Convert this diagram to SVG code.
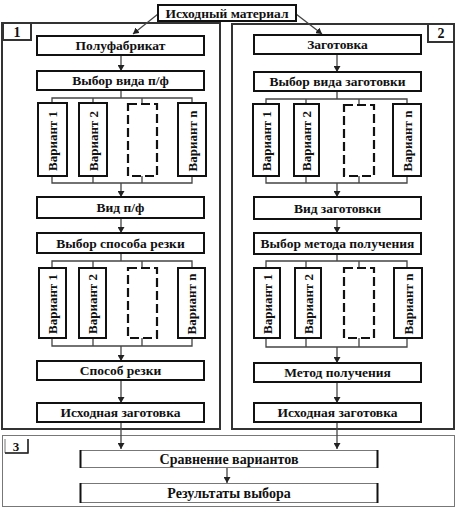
<svg xmlns="http://www.w3.org/2000/svg" width="457" height="509" viewBox="0 0 457 509">
<defs>
<marker id="ah" markerUnits="userSpaceOnUse" markerWidth="7" markerHeight="7" refX="6" refY="3.5" orient="auto">
<path d="M0,0 L6,3.5 L0,7 z" fill="#222"/>
</marker>
</defs>
<style>
.frame{fill:none;stroke:#333;stroke-width:2}
.box{fill:#fff;stroke:#111;stroke-width:2}
.dbox{fill:#fff;stroke:#111;stroke-width:2.2;stroke-dasharray:9,4}
.t{font-family:"Liberation Serif","Times New Roman",serif;font-weight:bold;font-size:13.5px;fill:#111;text-anchor:middle;dominant-baseline:central}
.v{font-family:"Liberation Serif","Times New Roman",serif;font-weight:bold;font-size:13px;fill:#111;text-anchor:middle;dominant-baseline:central}
.c{fill:none;stroke:#444;stroke-width:1.3}
.thin{fill:none;stroke:#777;stroke-width:1}
.side{stroke:#111;stroke-width:2}
</style>
<rect width="457" height="509" fill="#fff"/>

<!-- frames -->
<g id="frame1">
<rect class="frame" x="2" y="23" width="218" height="406"/>
<rect class="frame" x="3" y="23" width="28" height="17" fill="#fff"/>
<text class="t" x="17" y="32" style="font-size:14px">1</text>
</g>
<g id="frame2">
<rect class="frame" x="232" y="24" width="222" height="405"/>
<rect class="frame" x="428" y="24" width="26" height="18"/>
<text class="t" x="441" y="33" style="font-size:14px">2</text>
</g>
<g id="frame3">
<rect class="thin" x="2.5" y="435.5" width="452" height="71"/>
<path class="thin" d="M5,439 L5,453 L28,453 L28,439"/>
<path d="M5,453 L28,453 L28,439" fill="none" stroke="#222" stroke-width="1.5"/>
<text class="t" x="16" y="446" style="font-size:13px">3</text>
</g>

<!-- connectors -->
<g id="connectors">
<path class="c" d="M158,14 L133,34" marker-end="url(#ah)"/>
<path class="c" d="M296,14 L322,34" marker-end="url(#ah)"/>
<!-- left column -->
<path class="c" d="M121,55 L121,71" marker-end="url(#ah)"/>
<path class="c" d="M121,90 L121,98 M52,103 L52,98 L192,98 L192,103 M93,98 L93,103 M142,98 L142,104"/>
<path class="c" d="M52,176 L52,183 L192,183 L192,176 M93,176 L93,183 M142,176 L142,183"/>
<path class="c" d="M121,183 L121,197" marker-end="url(#ah)"/>
<path class="c" d="M121,218 L121,233" marker-end="url(#ah)"/>
<path class="c" d="M121,253 L121,261 M52,268 L52,261 L192,261 L192,268 M93,261 L93,268 M142,261 L142,268"/>
<path class="c" d="M52,338 L52,346 L192,346 L192,338 M93,338 L93,346 M142,338 L142,346"/>
<path class="c" d="M121,346 L121,361" marker-end="url(#ah)"/>
<path class="c" d="M121,380 L121,403" marker-end="url(#ah)"/>
<path class="c" d="M121,422 L121,449" marker-end="url(#ah)"/>
<!-- right column -->
<path class="c" d="M337,54 L337,72" marker-end="url(#ah)"/>
<path class="c" d="M337,91 L337,99 M266,104 L266,99 L407,99 L407,104 M306,99 L306,104 M359,99 L359,105"/>
<path class="c" d="M266,176 L266,183 L407,183 L407,176 M306,176 L306,183 M359,176 L359,183"/>
<path class="c" d="M337,183 L337,197" marker-end="url(#ah)"/>
<path class="c" d="M337,219 L337,233" marker-end="url(#ah)"/>
<path class="c" d="M337,254 L337,261 M266,268 L266,261 L407,261 L407,268 M306,261 L306,268 M359,261 L359,268"/>
<path class="c" d="M266,338 L266,347 L407,347 L407,338 M306,338 L306,347 M359,338 L359,347"/>
<path class="c" d="M337,347 L337,363" marker-end="url(#ah)"/>
<path class="c" d="M337,382 L337,403" marker-end="url(#ah)"/>
<path class="c" d="M337,422 L337,449" marker-end="url(#ah)"/>
<!-- bottom -->
<path class="c" d="M227,467 L227,483" marker-end="url(#ah)"/>
</g>

<!-- top node -->
<g id="n-source">
<rect class="box" x="158" y="5" width="138" height="16"/>
<text class="t" x="227" y="13">Исходный материал</text>
</g>

<!-- left column nodes -->
<g id="n-semi"><rect class="box" x="37" y="36" width="167" height="19"/><text class="t" x="120.5" y="45.5">Полуфабрикат</text></g>
<g id="n-semi-choice"><rect class="box" x="37" y="71" width="167" height="19"/><text class="t" x="120.5" y="80.5">Выбор вида п/ф</text></g>
<g id="n-l1v1"><rect class="box" x="38" y="103" width="29" height="73"/><text class="v" transform="translate(52.5,141) rotate(-90)">Вариант 1</text></g>
<g id="n-l1v2"><rect class="box" x="79" y="103" width="28" height="73"/><text class="v" transform="translate(93,141) rotate(-90)">Вариант 2</text></g>
<g id="n-l1vd"><rect class="dbox" x="128" y="104" width="29" height="72"/></g>
<g id="n-l1vn"><rect class="box" x="178" y="103" width="28" height="73"/><text class="v" transform="translate(192,141) rotate(-90)">Вариант n</text></g>
<g id="n-semi-kind"><rect class="box" x="37" y="197" width="167" height="21"/><text class="t" x="120.5" y="207.5">Вид п/ф</text></g>
<g id="n-cut-choice"><rect class="box" x="37" y="233" width="167" height="20"/><text class="t" x="120.5" y="243">Выбор способа резки</text></g>
<g id="n-l2v1"><rect class="box" x="39" y="268" width="27" height="70"/><text class="v" transform="translate(52.5,304) rotate(-90)">Вариант 1</text></g>
<g id="n-l2v2"><rect class="box" x="79" y="268" width="27" height="70"/><text class="v" transform="translate(92.5,304) rotate(-90)">Вариант 2</text></g>
<g id="n-l2vd"><rect class="dbox" x="128" y="268" width="29" height="70"/></g>
<g id="n-l2vn"><rect class="box" x="178" y="268" width="27" height="70"/><text class="v" transform="translate(191.5,304) rotate(-90)">Вариант n</text></g>
<g id="n-cut"><rect class="box" x="37" y="361" width="167" height="19"/><text class="t" x="120.5" y="370.5">Способ резки</text></g>
<g id="n-blank-l"><rect class="box" x="37" y="403" width="167" height="19"/><text class="t" x="120.5" y="412.5">Исходная заготовка</text></g>

<!-- right column nodes -->
<g id="n-workpiece"><rect class="box" x="254" y="35" width="167" height="19"/><text class="t" x="337.5" y="44.5">Заготовка</text></g>
<g id="n-wp-choice"><rect class="box" x="254" y="72" width="167" height="19"/><text class="t" x="337.5" y="81.5">Выбор вида заготовки</text></g>
<g id="n-r1v1"><rect class="box" x="253" y="104" width="26" height="72"/><text class="v" transform="translate(266,141) rotate(-90)">Вариант 1</text></g>
<g id="n-r1v2"><rect class="box" x="294" y="104" width="25" height="72"/><text class="v" transform="translate(306.5,141) rotate(-90)">Вариант 2</text></g>
<g id="n-r1vd"><rect class="dbox" x="344" y="105" width="30" height="71"/></g>
<g id="n-r1vn"><rect class="box" x="393" y="104" width="28" height="72"/><text class="v" transform="translate(407,141) rotate(-90)">Вариант n</text></g>
<g id="n-wp-kind"><rect class="box" x="254" y="197" width="167" height="22"/><text class="t" x="337.5" y="208">Вид заготовки</text></g>
<g id="n-method-choice"><rect class="box" x="254" y="233" width="167" height="21"/><text class="t" x="337.5" y="243.5">Выбор метода получения</text></g>
<g id="n-r2v1"><rect class="box" x="254" y="268" width="26" height="70"/><text class="v" transform="translate(267,304) rotate(-90)">Вариант 1</text></g>
<g id="n-r2v2"><rect class="box" x="295" y="268" width="26" height="70"/><text class="v" transform="translate(308,304) rotate(-90)">Вариант 2</text></g>
<g id="n-r2vd"><rect class="dbox" x="344" y="268" width="30" height="70"/></g>
<g id="n-r2vn"><rect class="box" x="394" y="268" width="28" height="70"/><text class="v" transform="translate(408,304) rotate(-90)">Вариант n</text></g>
<g id="n-method"><rect class="box" x="254" y="363" width="167" height="19"/><text class="t" x="337.5" y="372.5">Метод получения</text></g>
<g id="n-blank-r"><rect class="box" x="254" y="403" width="167" height="19"/><text class="t" x="337.5" y="412.5">Исходная заготовка</text></g>

<!-- bottom nodes -->
<g id="n-compare">
<rect class="thin" x="80.5" y="450.5" width="297" height="17" fill="#fff"/>
<path class="side" d="M80.5,450 L80.5,468 M377.5,450 L377.5,468"/>
<text class="t" x="229" y="459" style="font-size:14px">Сравнение вариантов</text>
</g>
<g id="n-result">
<rect class="thin" x="80.5" y="483.5" width="297" height="19" fill="#fff"/>
<path class="side" d="M80.5,483 L80.5,503 M377.5,483 L377.5,503"/>
<text class="t" x="229" y="493" style="font-size:14px">Результаты выбора</text>
</g>
</svg>
